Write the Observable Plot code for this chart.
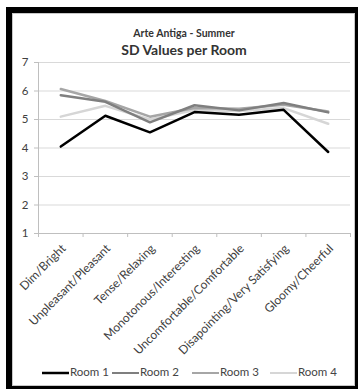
<!DOCTYPE html>
<html>
<head>
<meta charset="utf-8">
<script src="https://cdn.jsdelivr.net/npm/d3@7"></script>
<script src="https://cdn.jsdelivr.net/npm/@observablehq/plot@0.6"></script>
<style>
  html, body { margin: 0; padding: 0; background: #fff; }
  body { width: 358px; height: 389px; position: relative; overflow: hidden; font-family: Lato, "Open Sans", sans-serif; }
  #frame { position: absolute; left: 6px; top: 7px; width: 343px; height: 373px;
    border-left: 6px solid #000; border-top: 6px solid #000; border-right: 3px solid #000; border-bottom: 3px solid #000; }
  #inner { position: absolute; left: 0; top: 0; right: 0; bottom: 0; border: 1px solid #c8c8c8; }
  #chart { position: absolute; left: 0; top: 0; }
  .t1 { position: absolute; left: 0; width: 368px; text-align: center; font-weight: bold; color: #333; }
  #legend { position: absolute; top: 364px; left: 0; height: 16px; font-size: 11.5px; color: #444; }
  .item { position: absolute; top: 0; white-space: nowrap; line-height: 16px; }
  .sw { display: inline-block; width: 27px; vertical-align: middle; margin-right: 1px; }
</style>
</head>
<body>
<div id="frame"><div id="inner"></div></div>
<div id="chart"></div>
<div class="t1" style="top:27px;font-size:10.5px;">Arte Antiga - Summer</div>
<div class="t1" style="top:41px;font-size:14px;">SD Values per Room</div>
<div id="legend"></div>
<script>
const categories = ["Dim/Bright", "Unpleasant/Pleasant", "Tense/Relaxing", "Monotonous/Interesting", "Uncomfortable/Comfortable", "Disapointing/Very Satisfying", "Gloomy/Cheerful"];
const seriesNames = ["Room 1", "Room 2", "Room 3", "Room 4"];
const room1 = [4.05, 5.13, 4.55, 5.26, 5.17, 5.34, 3.86];
const room2 = [5.85, 5.62, 4.90, 5.50, 5.32, 5.58, 5.25];
const room3 = [6.07, 5.65, 5.10, 5.40, 5.38, 5.52, 5.28];
const room4 = [5.10, 5.48, 5.00, 5.33, 5.30, 5.40, 4.85];
const yTicks = [1, 2, 3, 4, 5, 6, 7];
const colors = ["#000000", "#7f7f7f", "#a6a6a6", "#d6d6d6"];

const seriesValues = [room1, room2, room3, room4];
const data = [];
seriesValues.forEach((vals, s) => vals.forEach((v, i) => data.push({series: seriesNames[s], i, cat: categories[i], value: v})));

const boundaries = d3.range(categories.length + 1).map(k => k - 0.5);
const centers = d3.range(categories.length);

const plot = Plot.plot({
  width: 358,
  height: 389,
  marginLeft: 38,
  marginRight: 8,
  marginTop: 62,
  marginBottom: 156,
  style: {fontFamily: "Lato, 'Open Sans', sans-serif", fontSize: "11px", color: "#404040", background: "transparent"},
  x: {type: "linear", domain: [-0.5, categories.length - 0.5]},
  y: {domain: [1, 7]},
  color: {domain: seriesNames, range: colors},
  marks: [
    Plot.ruleY(yTicks.filter(d => d > 1), {stroke: "#d9d9d9", strokeWidth: 1}),
    Plot.ruleY([1], {stroke: "#bfbfbf"}),
    Plot.ruleX([-0.5], {stroke: "#bfbfbf"}),
    Plot.axisY({ticks: yTicks, tickSize: 4, tickPadding: 6, stroke: "#bfbfbf", fill: "#404040", fontSize: 11.5, label: null, tickFormat: d => d}),
    Plot.axisX({ticks: boundaries, tickSize: 4, tickFormat: () => "", stroke: "#bfbfbf", label: null}),
    Plot.axisX({ticks: centers, tickSize: 0, tickPadding: 13, tickRotate: -45, tickFormat: i => categories[i], label: null, fontSize: 12, fill: "#404040", textAnchor: "end", dx: 3}),
    Plot.line(data.filter(d => d.series === "Room 4"), {x: "i", y: "value", stroke: "series", strokeWidth: 2.5}),
    Plot.line(data.filter(d => d.series === "Room 3"), {x: "i", y: "value", stroke: "series", strokeWidth: 2.5}),
    Plot.line(data.filter(d => d.series === "Room 2"), {x: "i", y: "value", stroke: "series", strokeWidth: 2.5}),
    Plot.line(data.filter(d => d.series === "Room 1"), {x: "i", y: "value", stroke: "series", strokeWidth: 2.5})
  ]
});
document.getElementById("chart").appendChild(plot);

const legendX = [42, 112, 192, 270];
const legend = document.getElementById("legend");
seriesNames.forEach((name, s) => {
  const item = document.createElement("div");
  item.className = "item";
  item.style.left = legendX[s] + "px";
  item.innerHTML = `<svg class="sw" width="27" height="4"><line x1="0" x2="27" y1="2" y2="2" stroke="${colors[s]}" stroke-width="${s === 0 ? 2.5 : 2}"/></svg>`;
  item.appendChild(document.createTextNode(name));
  legend.appendChild(item);
});
</script>
</body>
</html>
